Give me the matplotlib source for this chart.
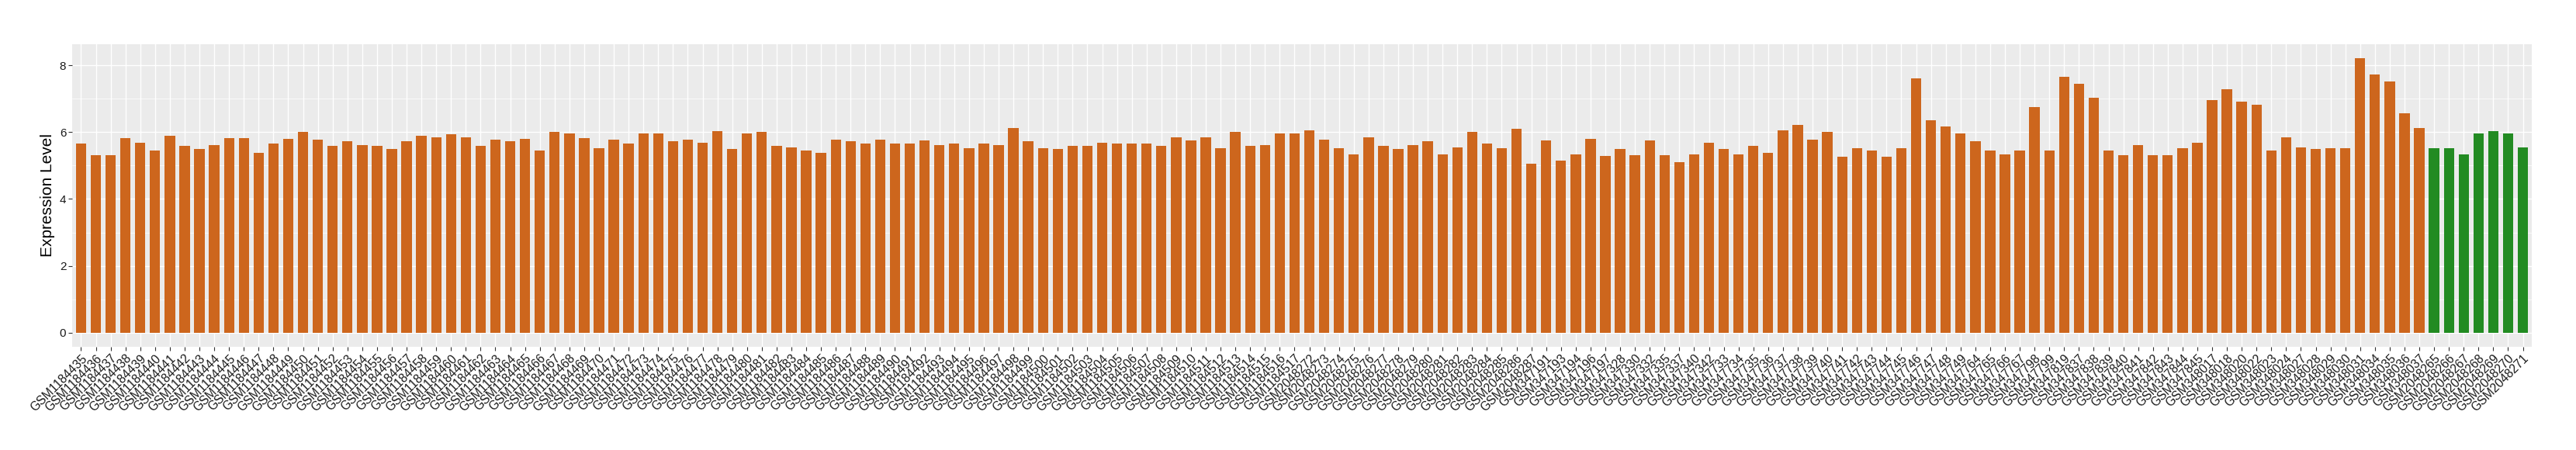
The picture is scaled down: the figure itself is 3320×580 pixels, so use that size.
import matplotlib
matplotlib.use("Agg")
import matplotlib.pyplot as plt
from matplotlib.ticker import MultipleLocator

plt.rcParams['font.family'] = ['Liberation Sans', 'DejaVu Sans']

samples_a = ["GSM1184435", "GSM1184436", "GSM1184437", "GSM1184438", "GSM1184439", "GSM1184440",
             "GSM1184441", "GSM1184442", "GSM1184443", "GSM1184444", "GSM1184445", "GSM1184446",
             "GSM1184447", "GSM1184448", "GSM1184449", "GSM1184450", "GSM1184451", "GSM1184452",
             "GSM1184453", "GSM1184454", "GSM1184455", "GSM1184456", "GSM1184457", "GSM1184458",
             "GSM1184459", "GSM1184460", "GSM1184461", "GSM1184462", "GSM1184463", "GSM1184464",
             "GSM1184465", "GSM1184466", "GSM1184467", "GSM1184468", "GSM1184469", "GSM1184470",
             "GSM1184471", "GSM1184472", "GSM1184473", "GSM1184474", "GSM1184475", "GSM1184476",
             "GSM1184477", "GSM1184478", "GSM1184479", "GSM1184480", "GSM1184481", "GSM1184482",
             "GSM1184483", "GSM1184484", "GSM1184485", "GSM1184486", "GSM1184487", "GSM1184488",
             "GSM1184489", "GSM1184490", "GSM1184491", "GSM1184492", "GSM1184493", "GSM1184494",
             "GSM1184495", "GSM1184496", "GSM1184497", "GSM1184498", "GSM1184499", "GSM1184500",
             "GSM1184501", "GSM1184502", "GSM1184503", "GSM1184504", "GSM1184505", "GSM1184506",
             "GSM1184507", "GSM1184508", "GSM1184509", "GSM1184510", "GSM1184511", "GSM1184512",
             "GSM1184513", "GSM1184514", "GSM1184515", "GSM1184516", "GSM1184517",
             "GSM2048272", "GSM2048273", "GSM2048274", "GSM2048275", "GSM2048276", "GSM2048277",
             "GSM2048278", "GSM2048279", "GSM2048280", "GSM2048281", "GSM2048282", "GSM2048283",
             "GSM2048284", "GSM2048285", "GSM2048286", "GSM2048287",
             "GSM347191", "GSM347193", "GSM347194", "GSM347196", "GSM347197", "GSM347328",
             "GSM347330", "GSM347332", "GSM347335", "GSM347337", "GSM347340", "GSM347342",
             "GSM347733", "GSM347734", "GSM347735", "GSM347736", "GSM347737", "GSM347738",
             "GSM347739", "GSM347740", "GSM347741", "GSM347742", "GSM347743", "GSM347744",
             "GSM347745", "GSM347746", "GSM347747", "GSM347748", "GSM347749", "GSM347764",
             "GSM347765", "GSM347766", "GSM347767", "GSM347798", "GSM347799", "GSM347819",
             "GSM347837", "GSM347838", "GSM347839", "GSM347840", "GSM347841", "GSM347842",
             "GSM347843", "GSM347844", "GSM347845",
             "GSM348017", "GSM348018", "GSM348020", "GSM348022", "GSM348023", "GSM348024",
             "GSM348027", "GSM348028", "GSM348029", "GSM348030", "GSM348031", "GSM348034",
             "GSM348035", "GSM348036", "GSM348037"]

values_a = [5.65, 5.32, 5.30, 5.83, 5.69, 5.44, 5.90, 5.58, 5.49, 5.62, 5.83, 5.83,
            5.37, 5.65, 5.81, 6.01, 5.78, 5.60, 5.72, 5.62, 5.58, 5.49, 5.72, 5.90,
            5.85, 5.93, 5.85, 5.58, 5.78, 5.72, 5.81, 5.46, 6.00, 5.97, 5.83, 5.53,
            5.78, 5.65, 5.95, 5.95, 5.72, 5.78, 5.69, 6.04, 5.49, 5.97, 6.00, 5.58,
            5.55, 5.44, 5.37, 5.78, 5.72, 5.67, 5.78, 5.65, 5.65, 5.76, 5.62, 5.67,
            5.53, 5.67, 5.62, 6.13, 5.74, 5.53, 5.49, 5.58, 5.60, 5.69, 5.65, 5.67,
            5.65, 5.60, 5.85, 5.76, 5.85, 5.51, 6.00, 5.60, 5.62, 5.95, 5.95,
            6.06, 5.78, 5.51, 5.34, 5.85, 5.58, 5.49, 5.62, 5.72, 5.34, 5.55, 6.00,
            5.67, 5.53, 6.09, 5.06,
            5.76, 5.16, 5.34, 5.81, 5.28, 5.49, 5.30, 5.76, 5.32, 5.11, 5.34, 5.69,
            5.49, 5.34, 5.60, 5.39, 6.06, 6.21, 5.78, 6.00, 5.26, 5.51, 5.44, 5.26,
            5.51, 7.62, 6.36, 6.16, 5.97, 5.72, 5.46, 5.34, 5.46, 6.76, 5.44, 7.66,
            7.45, 7.03, 5.46, 5.32, 5.62, 5.30, 5.30, 5.53, 5.69,
            6.96, 7.29, 6.92, 6.83, 5.46, 5.85, 5.55, 5.49, 5.53, 5.51, 8.22, 7.73,
            7.52, 6.57, 6.13]

samples_b = ["GSM2048265", "GSM2048266", "GSM2048267", "GSM2048268", "GSM2048269",
             "GSM2048270", "GSM2048271"]
values_b = [5.51, 5.53, 5.34, 5.97, 6.04, 5.97, 5.55]

color_a = "#CD661D"
color_b = "#228B22"

samples = samples_a + samples_b
values = values_a + values_b
colors = [color_a] * len(samples_a) + [color_b] * len(samples_b)

W, H = 3320, 580
fig = plt.figure(figsize=(W / 100, H / 100), dpi=100)
left, right, top, bottom = 93, 3263, 57, 446.5
ax = fig.add_axes([left / W, 1 - bottom / H, (right - left) / W, (bottom - top) / H])

x = list(range(len(samples)))
ax.set_facecolor("#EBEBEB")
ax.bar(x, values, width=0.7, color=colors, zorder=3)

vmax = max(values)
ax.set_ylim(-0.05 * vmax, 1.05 * vmax)
ax.set_xlim(-0.6, len(samples) - 1 + 0.6)

ax.yaxis.set_major_locator(MultipleLocator(2))
ax.yaxis.set_minor_locator(MultipleLocator(1))
ax.set_xticks(x)
ax.set_xticklabels(samples, rotation=45, ha="right", va="top", rotation_mode="anchor",
                   fontsize=11.3, color="#1A1A1A")
ax.tick_params(axis="y", which="major", labelsize=11, labelcolor="#1A1A1A", color="#333333",
               length=3.5, width=0.8, pad=2)
ax.tick_params(axis="y", which="minor", length=0)
ax.tick_params(axis="x", length=3.5, width=0.8, color="#333333", pad=2)

ax.grid(True, which="major", axis="both", color="white", linewidth=1.0, zorder=0)
ax.grid(True, which="minor", axis="y", color="white", linewidth=0.5, zorder=0)
ax.set_axisbelow(True)
for s in ax.spines.values():
    s.set_visible(False)

ax.set_ylabel("Expression Level", fontsize=15, color="black", labelpad=4)

fig.savefig("out.png", dpi=100, facecolor="white")
